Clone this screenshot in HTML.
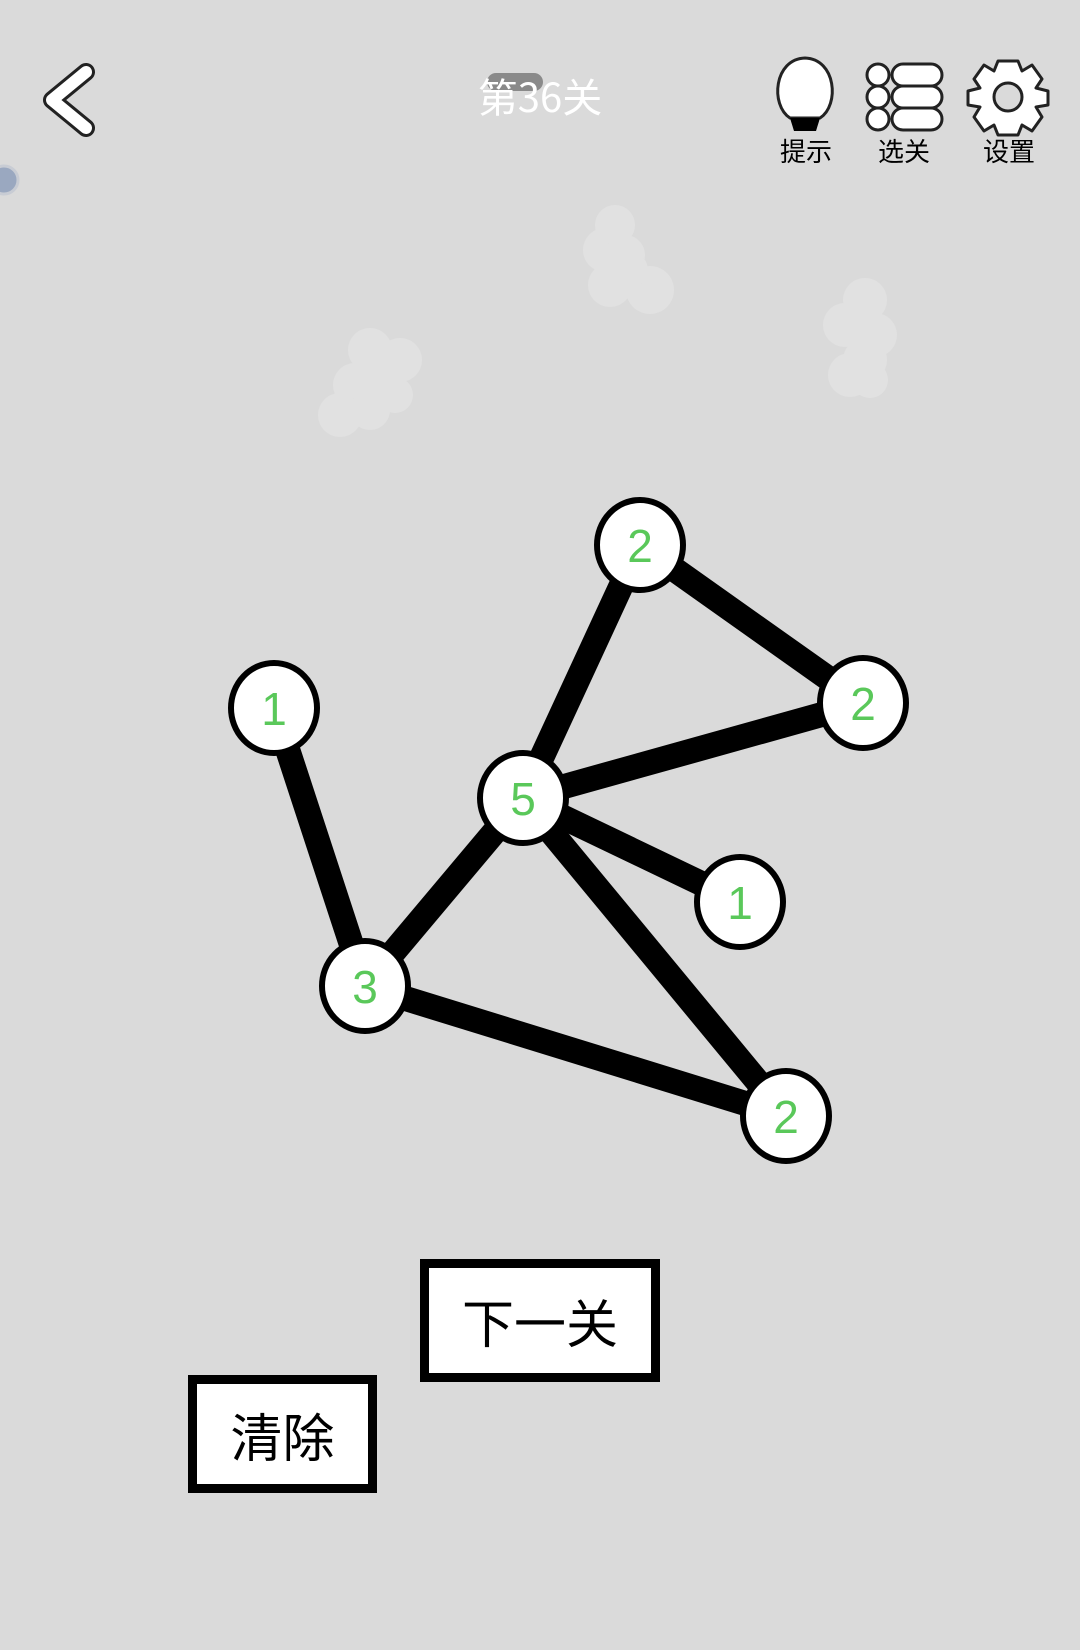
<!DOCTYPE html>
<html><head><meta charset="utf-8"><style>
html,body{margin:0;padding:0;background:#dadada;}
body{width:1080px;height:1650px;overflow:hidden;position:relative;font-family:"Liberation Sans","Noto Sans CJK SC",sans-serif;}
svg{position:absolute;left:0;top:0;}
.btn{position:absolute;background:#fff;border:9px solid #000;box-sizing:border-box;display:flex;align-items:center;justify-content:center;font-family:"Noto Sans CJK SC",sans-serif;font-size:52px;color:#000;}
</style></head><body>
<svg width="1080" height="1650" viewBox="0 0 1080 1650">
  <g fill="#e6e6e6" opacity="0.6">
    <circle cx="370" cy="350" r="22"/><circle cx="400" cy="360" r="22"/><circle cx="385" cy="390" r="22"/><circle cx="355" cy="385" r="22"/><circle cx="340" cy="415" r="22"/><circle cx="370" cy="410" r="20"/><circle cx="395" cy="395" r="18"/>
    <circle cx="615" cy="225" r="20"/><circle cx="605" cy="250" r="22"/><circle cx="625" cy="255" r="20"/><circle cx="610" cy="285" r="22"/><circle cx="650" cy="290" r="24"/><circle cx="630" cy="270" r="18"/>
    <circle cx="865" cy="300" r="22"/><circle cx="845" cy="325" r="22"/><circle cx="875" cy="335" r="22"/><circle cx="865" cy="360" r="22"/><circle cx="850" cy="375" r="22"/><circle cx="870" cy="380" r="18"/>
  </g>
  <polyline points="86,72 52,100 86,128" fill="none" stroke="#222" stroke-width="18" stroke-linecap="round" stroke-linejoin="round"/>
  <polyline points="86,72 52,100 86,128" fill="none" stroke="#fff" stroke-width="12" stroke-linecap="round" stroke-linejoin="round"/>
  <rect x="487" y="73" width="56" height="18" rx="9" fill="#8a8a8a"/>
  <text x="540" y="112" text-anchor="middle" font-size="40" fill="#fff" font-family="Noto Sans CJK SC, sans-serif">第36关</text>
  <circle cx="4" cy="180" r="14" fill="#9aa8c0" stroke="#c8ccd4" stroke-width="3"/>
  <path d="M790,118 C770,105 774,59 805,58 C836,59 840,105 820,118 Z" fill="#fff" stroke="#222" stroke-width="3"/>
  <path d="M790,118 L820,118 L816,131 L794,131 Z" fill="#000"/>
  <g fill="#fff" stroke="#222" stroke-width="3">
    <circle cx="878" cy="75" r="11"/><circle cx="878" cy="97" r="11"/><circle cx="878" cy="119" r="11"/>
    <rect x="892" y="64" width="50" height="22" rx="11"/><rect x="892" y="86" width="50" height="22" rx="11"/><rect x="892" y="108" width="50" height="22" rx="11"/>
  </g>
  <g transform="translate(1008,97)">
    <path d="M-10,-36 L10,-36 L14,-26 L24,-32 L34,-18 L28,-9 L40,-6 L40,8 L28,10 L34,20 L24,34 L14,28 L10,38 L-10,38 L-14,28 L-24,34 L-34,20 L-28,10 L-40,8 L-40,-6 L-28,-9 L-34,-18 L-24,-32 L-14,-26 Z" fill="#fff" stroke="#222" stroke-width="3" stroke-linejoin="round"/>
    <circle r="14" fill="#dadada" stroke="#222" stroke-width="3"/>
  </g>
  <g font-size="26" fill="#000" text-anchor="middle" font-family="Noto Sans CJK SC, sans-serif">
    <text x="806" y="161">提示</text><text x="904" y="161">选关</text><text x="1009" y="161">设置</text>
  </g>
  <g stroke="#000" stroke-width="25" stroke-linecap="butt">
    <line x1="640" y1="545" x2="863" y2="703"/>
    <line x1="640" y1="545" x2="523" y2="798"/>
    <line x1="863" y1="703" x2="523" y2="798"/>
    <line x1="523" y1="798" x2="740" y2="902"/>
    <line x1="523" y1="798" x2="365" y2="986"/>
    <line x1="523" y1="798" x2="786" y2="1116"/>
    <line x1="274" y1="708" x2="365" y2="986"/>
    <line x1="365" y1="986" x2="786" y2="1116"/>
  </g>
  <g fill="#fff" stroke="#000" stroke-width="6">
    <ellipse cx="640" cy="545" rx="43" ry="45"/>
    <ellipse cx="863" cy="703" rx="43" ry="45"/>
    <ellipse cx="523" cy="798" rx="43" ry="45"/>
    <ellipse cx="274" cy="708" rx="43" ry="45"/>
    <ellipse cx="740" cy="902" rx="43" ry="45"/>
    <ellipse cx="365" cy="986" rx="43" ry="45"/>
    <ellipse cx="786" cy="1116" rx="43" ry="45"/>
  </g>
  <g fill="#5ac85a" font-size="46" text-anchor="middle" font-family="Liberation Sans, sans-serif">
    <text x="640" y="562">2</text>
    <text x="863" y="720">2</text>
    <text x="523" y="815">5</text>
    <text x="274" y="725">1</text>
    <text x="740" y="919">1</text>
    <text x="365" y="1003">3</text>
    <text x="786" y="1133">2</text>
  </g>
</svg>
<div class="btn" style="left:420px;top:1259px;width:240px;height:123px;">下一关</div>
<div class="btn" style="left:188px;top:1375px;width:189px;height:118px;">清除</div>
</body></html>
